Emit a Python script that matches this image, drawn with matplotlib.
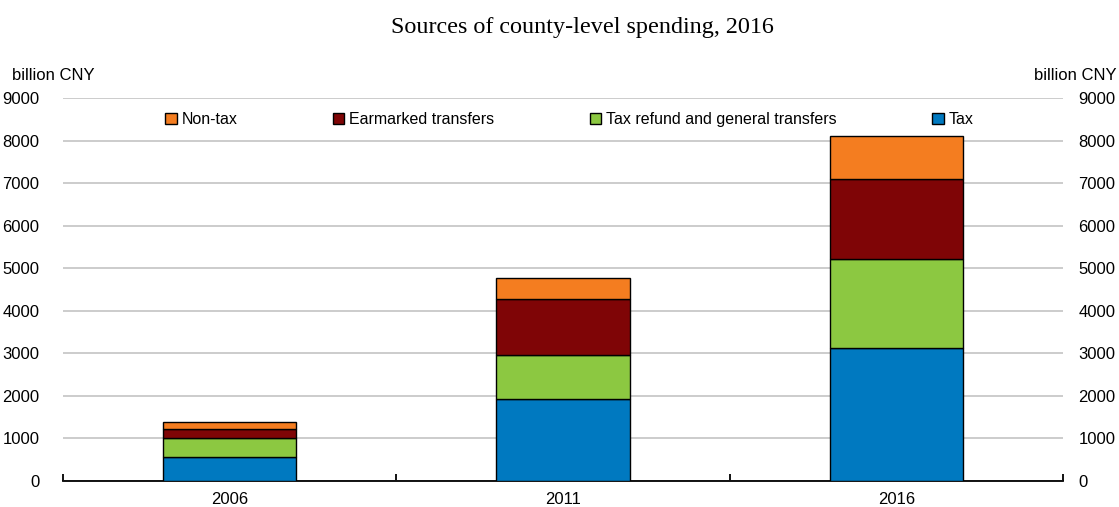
import matplotlib.pyplot as plt
import numpy as np

plt.rcParams['font.family'] = ['Liberation Sans', 'DejaVu Sans']

years = ['2006', '2011', '2016']
tax = [565, 1920, 3120]
general_transfers = [440, 1050, 2105]
earmarked = [220, 1310, 1870]
non_tax = [160, 500, 1020]

colors = {
    'Tax': '#0079c0',
    'Tax refund and general transfers': '#8cc841',
    'Earmarked transfers': '#7f0506',
    'Non-tax': '#f47d20',
}

FS = 12

fig = plt.figure(figsize=(11.19, 5.07), dpi=100)
ax = fig.add_axes([63 / 1119, 1 - 481 / 507, 1000 / 1119, 383 / 507])

x = np.arange(len(years))
bottom = np.zeros(len(years))
handles = {}
for name, vals in [('Tax', tax),
                   ('Tax refund and general transfers', general_transfers),
                   ('Earmarked transfers', earmarked),
                   ('Non-tax', non_tax)]:
    b = ax.bar(x, vals, width=0.4, bottom=bottom, color=colors[name],
               edgecolor='black', linewidth=1, label=name, zorder=3)
    handles[name] = b
    bottom += np.array(vals)

ax.set_xlim(-0.5, 2.5)
ax.set_ylim(0, 9000)
yticks = np.arange(0, 9001, 1000)
ax.set_yticks(yticks)
ax.grid(axis='y', color='#c8c8c8', linewidth=1.3, zorder=0)

# category labels at centres, boundary ticks between groups
ax.set_xticks(x)
ax.set_xticklabels(years, fontsize=FS)
ax.tick_params(axis='x', which='major', length=0, pad=8)
ax.set_xticks([-0.5, 0.5, 1.5, 2.5], minor=True)
ax.tick_params(axis='x', which='minor', direction='in', length=5, width=1.3, color='black')

ax.tick_params(axis='y', length=0, labelsize=FS, pad=17)

# mirrored value axis on the right
ax2 = ax.twinx()
ax2.set_ylim(0, 9000)
ax2.set_yticks(yticks)
ax2.tick_params(axis='y', length=0, labelsize=FS, pad=11)

for a in (ax, ax2):
    for side in ['left', 'right', 'top']:
        a.spines[side].set_visible(False)
ax.spines['bottom'].set_linewidth(1.3)
ax2.spines['bottom'].set_visible(False)

fig.text(12 / 1119, 1 - 76 / 507, 'billion CNY', fontsize=FS, va='center', ha='left')
fig.text(1117 / 1119, 1 - 76 / 507, 'billion CNY', fontsize=FS, va='center', ha='right')

fig.text(582 / 1119, 1 - 28 / 507, 'Sources of county-level spending, 2016',
         fontsize=17.4, ha='center', va='center', family='Liberation Serif')

order = ['Non-tax', 'Earmarked transfers', 'Tax refund and general transfers', 'Tax']
ax.legend([handles[n] for n in order], order, ncol=4, loc='upper left',
          bbox_to_anchor=(0.088, 1.0), frameon=False, fontsize=11.5,
          handlelength=0.7, handleheight=0.7, handletextpad=0.3,
          columnspacing=6.0, borderaxespad=0.5)

fig.savefig('out.png', dpi=100)
